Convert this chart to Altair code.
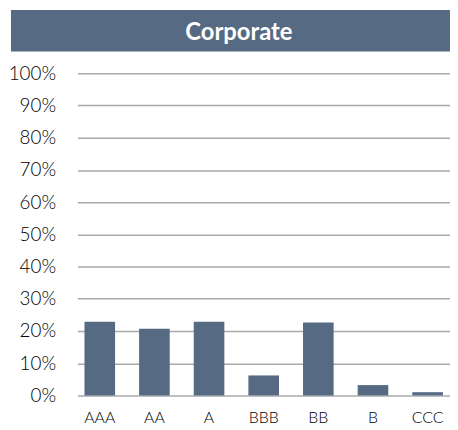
import altair as alt
import pandas as pd

ratings = ["AAA", "AA", "A", "BBB", "BB", "B", "CCC"]
shares = [0.229, 0.207, 0.229, 0.062, 0.226, 0.032, 0.010]
title_text = ["Corporate"]
y_ticks = [0, 0.1, 0.2, 0.3, 0.4, 0.5, 0.6, 0.7, 0.8, 0.9, 1.0]

W, H = 376, 325
BAR = "#566a83"

df = pd.DataFrame({"rating": ratings, "share": shares})
tdf = pd.DataFrame({"t": title_text})

bars = alt.Chart(df).mark_bar(color=BAR).encode(
    x=alt.X("rating:N", sort=ratings, title=None,
            scale=alt.Scale(paddingInner=0.44, paddingOuter=0.13),
            axis=alt.Axis(labelAngle=0, ticks=False, domain=False, labelPadding=14,
                          labelFontSize=16, labelColor="#000000", labelFont="Lato",
                          labelFontWeight=300)),
    y=alt.Y("share:Q", title=None, scale=alt.Scale(domain=[0, 1], nice=False),
            axis=alt.Axis(values=y_ticks, format=".0%", ticks=False, domain=False,
                          labelPadding=22, labelFontSize=19, labelColor="#000000",
                          labelFont="Lato", labelFontWeight=300,
                          gridColor="#aaaaaa", gridWidth=1.5)),
)

banner = alt.Chart(tdf).mark_rect(color=BAR).encode(
    x=alt.value(-67), x2=alt.value(W), y=alt.value(-64), y2=alt.value(-22)
)
title = alt.Chart(tdf).mark_text(color="white", font="Lato", fontWeight="bold",
                                 fontSize=24, baseline="middle", align="center").encode(
    text="t:N", x=alt.value(163), y=alt.value(-41)
)

chart = alt.layer(banner, title, bars).properties(
    width=W, height=H, padding={"left": 0, "top": 0, "right": 0, "bottom": 5}
).configure_view(stroke=None)

chart.save("out.html", embed_options={"renderer": "svg", "actions": False})
